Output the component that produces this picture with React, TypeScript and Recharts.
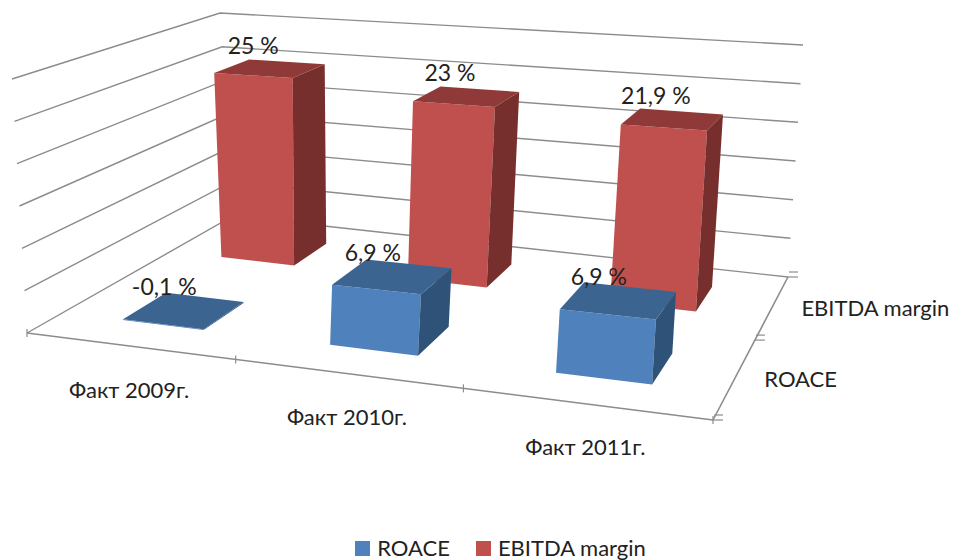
import { BarChart, Bar, CartesianGrid, XAxis, YAxis, Legend } from "recharts";

const categories = ["Факт 2009г.", "Факт 2010г.", "Факт 2011г."];
const roace = [-0.1, 6.9, 6.9];
const ebitda = [25, 23, 21.9];
const depthLabels = ["ROACE", "EBITDA margin"];
const valueTicks = [0, 5, 10, 15, 20, 25, 30];

const data = categories.map((name, i) => ({ name, roace: roace[i], ebitda: ebitda[i] }));

const W = 961;
const H = 560;
const PLOT_H = H - 1; // the x axis needs a height of 1 or it won't draw its ticks
const FONT = "Lato, sans-serif";
const AXIS = "#8c8c8c";

type Pt = [number, number];

// square -> quad projective map, corners go front-left, front-right, back-right, back-left
function quadMap([p0, p1, p2, p3]: Pt[]) {
  const dx1 = p1[0] - p2[0];
  const dx2 = p3[0] - p2[0];
  const sx = p0[0] - p1[0] + p2[0] - p3[0];
  const dy1 = p1[1] - p2[1];
  const dy2 = p3[1] - p2[1];
  const sy = p0[1] - p1[1] + p2[1] - p3[1];
  const det = dx1 * dy2 - dx2 * dy1;
  const g = (sx * dy2 - dx2 * sy) / det;
  const h = (dx1 * sy - sx * dy1) / det;
  const a = p1[0] - p0[0] + g * p1[0];
  const b = p3[0] - p0[0] + h * p3[0];
  const d = p1[1] - p0[1] + g * p1[1];
  const e = p3[1] - p0[1] + h * p3[1];
  return (u: number, w: number): Pt => {
    const q = g * u + h * w + 1;
    return [(a * u + b * w + p0[0]) / q, (d * u + e * w + p0[1]) / q];
  };
}

const floor = quadMap([[27, 333], [713, 420], [788, 277], [233, 216]]);
const roof = quadMap([[12, 79], [729, 119], [803, 45], [220, 13]]);

// extra foreshortening along the category axis
const warp = (u: number) => (0.947 * u) / (1 - 0.053 * u);

// u along categories, v up the value axis, w into the depth
function project(u: number, v: number, w: number): Pt {
  const a = floor(warp(u), w);
  const b = roof(warp(u), w);
  return [a[0] + (b[0] - a[0]) * v, a[1] + (b[1] - a[1]) * v];
}

const toPath = (pts: Pt[]) => pts.map((p) => p[0].toFixed(1) + "," + p[1].toFixed(1)).join(" ");

function Floor() {
  const n = categories.length;
  const m = depthLabels.length;
  const front = [project(0, 0, 0), project(1, 0, 0)];
  const side = [project(1, 0, 0), project(1, 0, 1)];
  return (
    <g>
      <polyline points={toPath(front)} fill="none" stroke={AXIS} strokeWidth={1.6} />
      <polyline points={toPath(side)} fill="none" stroke={AXIS} strokeWidth={1.6} />
      {Array.from({ length: n + 1 }, (_, i) => {
        const p = project(i / n, 0, 0);
        return <line key={i} x1={p[0]} x2={p[0]} y1={p[1] - 4} y2={p[1] + 4} stroke={AXIS} strokeWidth={1.2} />;
      })}
      {Array.from({ length: m + 1 }, (_, i) => {
        const p = project(1, 0, i / m);
        return (
          <g key={i}>
            <line x1={p[0]} x2={p[0] + 10} y1={p[1]} y2={p[1]} stroke={AXIS} strokeWidth={1.2} />
            <line x1={p[0] + 1} x2={p[0] + 10} y1={p[1] - 5} y2={p[1] - 5} stroke={AXIS} strokeWidth={1.2} />
          </g>
        );
      })}
      {depthLabels.map((label, i) => {
        const p = project(1, 0, (i + 0.5) / m);
        return (
          <text key={label} x={p[0] + 29} y={p[1] + 4} fontFamily={FONT} fontSize={22} fill="#222" dominantBaseline="middle">
            {label}
          </text>
        );
      })}
    </g>
  );
}

function wallLine(props: any) {
  const v = (PLOT_H - props.y1) / PLOT_H;
  const isFloor = Math.abs(v) < 0.001;
  return (
    <g key={props.key}>
      <polyline
        points={toPath([project(0, v, 0), project(0, v, 1), project(1, v, 1)])}
        fill="none"
        stroke={AXIS}
        strokeWidth={1.4}
      />
      {isFloor ? <Floor /> : null}
    </g>
  );
}

function categoryTick(props: any) {
  const u = props.x / W;
  const p = project(u, 0, 0);
  return (
    <text x={p[0]} y={p[1] + 46} textAnchor="middle" dominantBaseline="middle" fontFamily={FONT} fontSize={22} fill="#222">
      {props.payload.value}
    </text>
  );
}

function makeBar3d(wCenter: number, uShift: number, front: string, top: string, side: string) {
  const w0 = wCenter - 0.1;
  const w1 = wCenter + 0.1;
  return function Bar3d(props: any) {
    const { x, y, width, height, value } = props;
    const val = Array.isArray(value) ? value[1] : value;
    const u0 = x / W - uShift;
    const u1 = (x + width) / W - uShift;
    const yA = Math.min(y, y + height);
    const yB = Math.max(y, y + height);
    const vt = (PLOT_H - yA) / PLOT_H;
    const vb = (PLOT_H - yB) / PLOT_H;
    const topFace = [project(u0, vt, w0), project(u1, vt, w0), project(u1, vt, w1), project(u0, vt, w1)];
    const frontFace = [project(u0, vb, w0), project(u1, vb, w0), project(u1, vt, w0), project(u0, vt, w0)];
    const sideFace = [project(u1, vb, w0), project(u1, vb, w1), project(u1, vt, w1), project(u1, vt, w0)];
    const c = project((u0 + u1) / 2 + uShift, vt, wCenter);
    return (
      <g>
        <polygon points={toPath(frontFace)} fill={front} />
        <polygon points={toPath(sideFace)} fill={side} />
        <polygon points={toPath(topFace)} fill={top} />
        <text x={c[0] - 20} y={c[1] - 21} textAnchor="middle" dominantBaseline="middle" fontFamily={FONT} fontSize={23} fill="#222">
          {String(val).replace(".", ",") + " %"}
        </text>
      </g>
    );
  };
}

const RoaceBar = makeBar3d(0.25, 0, "#4f81bd", "#3c6491", "#2f5279");
const EbitdaBar = makeBar3d(0.75, 0.005, "#c0504d", "#8f3a38", "#772f2d");

function LegendContent({ payload }: any) {
  const items = [...(payload ?? [])].reverse();
  return (
    <div style={{ display: "flex", justifyContent: "center", gap: 26, paddingLeft: 40, fontFamily: FONT, fontSize: 22, color: "#222", lineHeight: "22px" }}>
      {items.map((it: any) => (
        <div key={it.value} style={{ display: "flex", alignItems: "center", gap: 7 }}>
          <span style={{ display: "inline-block", width: 15, height: 15, background: it.color }} />
          <span>{it.value}</span>
        </div>
      ))}
    </div>
  );
}

export default function App() {
  return (
    <div style={{ position: "absolute", left: 0, top: 0 }}>
      <BarChart width={W} height={H} data={data} margin={{ top: 0, right: 0, bottom: 0, left: 0 }} barCategoryGap="30%">
        <CartesianGrid vertical={false} horizontal={wallLine} />
        <XAxis xAxisId="a" dataKey="name" height={1} axisLine={false} tickLine={false} interval={0} tick={categoryTick} />
        <XAxis xAxisId="b" dataKey="name" hide height={0} />
        <YAxis width={0} hide domain={[0, 30]} ticks={valueTicks} allowDataOverflow />
        <Bar xAxisId="a" dataKey="ebitda" name="EBITDA margin" fill="#c0504d" shape={EbitdaBar} isAnimationActive={false} />
        <Bar xAxisId="b" dataKey="roace" name="ROACE" fill="#4f81bd" shape={RoaceBar} isAnimationActive={false} />
        <Legend
          layout="horizontal"
          verticalAlign="middle"
          align="center"
          content={LegendContent}
          wrapperStyle={{ top: 537, left: 0, width: W, bottom: "auto" }}
        />
      </BarChart>
    </div>
  );
}
